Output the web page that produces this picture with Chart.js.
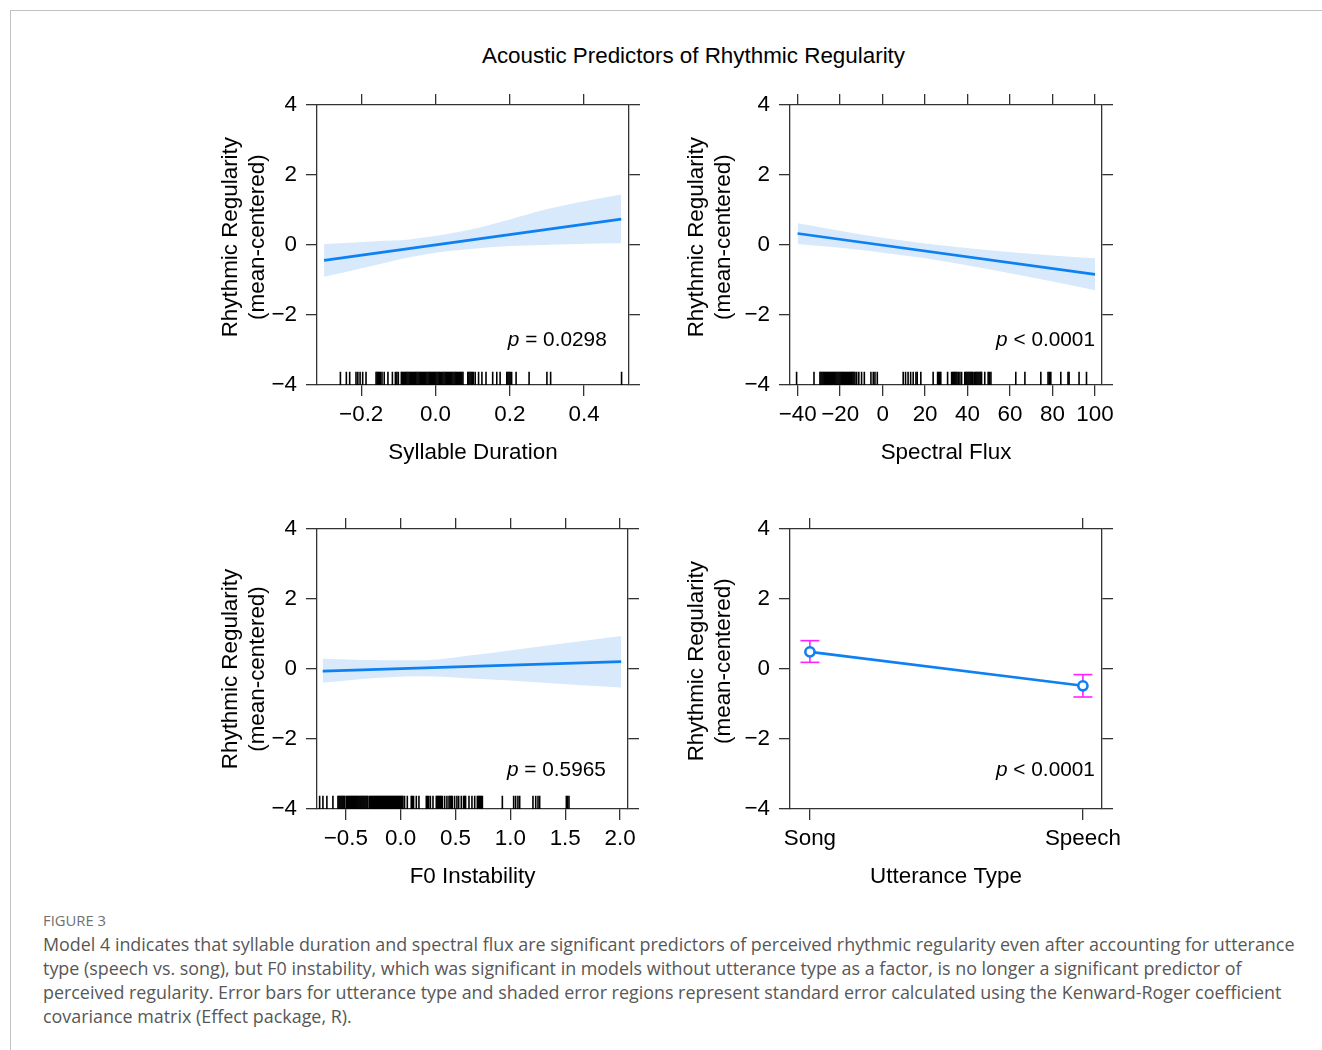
<!DOCTYPE html>
<html lang="en">
<head>
<meta charset="UTF-8">
<title>Acoustic Predictors of Rhythmic Regularity</title>
<style>
  body { margin: 0; background: #fff; }
  #page { position: relative; width: 1322px; height: 1050px; overflow: hidden; background: #fff; }
  #frame { position: absolute; left: 10px; top: 10px; right: -2px; bottom: -2px;
           border-top: 1.5px solid #c2c2c2; border-left: 1.5px solid #c2c2c2; }
  canvas { position: absolute; }
  #title { position: absolute; left: 0; top: 43px; width: 1387px; text-align: center;
           font: 22.4px "Liberation Sans", Arial, sans-serif; line-height: 26px; color: #000; }
  #figlabel { position: absolute; left: 43px; top: 911px; font: 14.8px "Open Sans", sans-serif;
              line-height: 18px; color: #707070; }
  #caption { position: absolute; left: 43px; top: 932px; font: 17.9px "Open Sans", sans-serif;
             line-height: 24px; color: #575757; white-space: nowrap; }
</style>
</head>
<body>
<div id="page">
  <div id="frame"></div>
  <div id="title">Acoustic Predictors of Rhythmic Regularity</div>
  <canvas id="sdChart"></canvas>
  <canvas id="sfChart"></canvas>
  <canvas id="f0Chart"></canvas>
  <canvas id="utChart"></canvas>
  <div id="figlabel">FIGURE 3</div>
  <div id="caption">Model 4 indicates that syllable duration and spectral flux are significant predictors of perceived rhythmic regularity even after accounting for utterance<br>type (speech vs. song), but F0 instability, which was significant in models without utterance type as a factor, is no longer a significant predictor of<br>perceived regularity. Error bars for utterance type and shaded error regions represent standard error calculated using the Kenward-Roger coefficient<br>covariance matrix (Effect package, R).</div>
</div>

<script src="https://cdn.jsdelivr.net/npm/chart.js@4.4.1/dist/chart.umd.min.js"></script>
<script>
// y axis shared by all panels
const yTicks = [-4, -2, 0, 2, 4];
const yTickLabels = ['\u22124', '\u22122', '0', '2', '4'];
const rugY = -3.81;

// Syllable duration
const sdTicks = [-0.2, 0, 0.2, 0.4];
const sdTickLabels = ['\u22120.2', '0.0', '0.2', '0.4'];
const sdFitX = [-0.30, 0.50];
const sdFitY = [-0.44, 0.74];
const sdBandX = [-0.30, -0.16, -0.07, 0.02, 0.11, 0.20, 0.29, 0.38, 0.50];
const sdBandHi = [0.03, 0.11, 0.16, 0.29, 0.48, 0.73, 1.00, 1.21, 1.44];
const sdBandLo = [-0.91, -0.57, -0.35, -0.19, -0.10, -0.03, 0.00, 0.03, 0.05];
const sdRug = [-0.256, -0.240, -0.231, -0.214, -0.209, -0.203, -0.196, -0.187,
  -0.160, -0.157, -0.154, -0.151, -0.148, -0.144, -0.138, -0.128, -0.116, -0.108, -0.104, -0.100,
  -0.092, -0.089, -0.086, -0.083, -0.080, -0.077, -0.074, -0.071, -0.068, -0.065, -0.062, -0.059,
  -0.056, -0.053, -0.050, -0.047, -0.044, -0.041, -0.038, -0.035, -0.032, -0.029, -0.026, -0.023,
  -0.020, -0.017, -0.014, -0.011, -0.008, -0.005, -0.002, 0.001, 0.004, 0.007, 0.010, 0.013,
  0.017, 0.020, 0.023, 0.026, 0.029, 0.032, 0.035, 0.038, 0.041, 0.044, 0.047, 0.050, 0.053,
  0.056, 0.059, 0.062, 0.065, 0.068, 0.071, 0.074,
  0.087, 0.090, 0.093, 0.096, 0.099, 0.102, 0.107, 0.116, 0.125, 0.136, 0.154, 0.165, 0.174,
  0.192, 0.195, 0.198, 0.201, 0.205, 0.217, 0.252, 0.300, 0.310, 0.501];

// Spectral flux
const sfTicks = [-40, -20, 0, 20, 40, 60, 80, 100];
const sfTickLabels = ['\u221240', '\u221220', '0', '20', '40', '60', '80', '100'];
const sfFitX = [-40, 100];
const sfFitY = [0.33, -0.84];
const sfBandX = [-40, -10, 20, 50, 80, 100];
const sfBandHi = [0.62, 0.30, 0.04, -0.15, -0.30, -0.38];
const sfBandLo = [0.03, -0.14, -0.38, -0.69, -1.04, -1.29];
const sfRug = [-40.5, -32.3,
  -29.5, -29, -28.5, -28, -27.5, -27, -26.5, -26, -25.5, -25, -24.5, -24, -23.5, -23, -22.5, -22,
  -21.5, -21, -20.5, -20, -19.5, -19, -18.5, -18, -17.5, -17, -16.5, -16, -15.5, -15, -14.5, -14,
  -13.5, -13, -12.2, -11.2, -9.9, -8.6, -5.5, -4.4, -3.6, -2.5,
  9.7, 10.8, 12.0, 13.2, 14.4, 15.7, 16.3, 18.0, 23.8, 25.9, 26.4, 26.9, 27.4, 30.6,
  32.5, 33.0, 33.5, 34.0, 34.5, 35.0, 35.6, 36.4, 37.2,
  38.7, 39.2, 39.7, 40.2, 40.7, 41.2, 41.7, 42.2, 42.6, 43.4, 43.9, 44.4, 44.9, 45.4, 45.9, 46.4, 46.6,
  48.1, 49.7, 50.3, 51.0, 62.7, 67.0, 74.5, 77.9, 78.5, 79.2, 83.9, 87.3, 87.8, 92.5, 96.0];

// F0 instability
const f0Ticks = [-0.5, 0, 0.5, 1, 1.5, 2];
const f0TickLabels = ['\u22120.5', '0.0', '0.5', '1.0', '1.5', '2.0'];
const f0FitX = [-0.71, 2.01];
const f0FitY = [-0.06, 0.21];
const f0BandX = [-0.71, -0.37, 0.17, 0.69, 1.30, 2.01];
const f0BandHi = [0.29, 0.26, 0.25, 0.41, 0.66, 0.94];
const f0BandLo = [-0.39, -0.29, -0.21, -0.28, -0.39, -0.53];
const f0Rug = [-0.738, -0.708, -0.672, -0.617,
  -0.571, -0.562, -0.553, -0.544, -0.535, -0.526, -0.517, -0.510,
  -0.495, -0.486, -0.477, -0.468, -0.459, -0.450, -0.441, -0.432, -0.423, -0.414, -0.405, -0.396,
  -0.387, -0.378, -0.369, -0.360, -0.351, -0.342, -0.333, -0.324, -0.315, -0.306, -0.298,
  -0.283, -0.274, -0.265, -0.256, -0.247, -0.238, -0.229, -0.220, -0.211, -0.202, -0.193, -0.184,
  -0.175, -0.166, -0.157, -0.148, -0.139, -0.130, -0.121, -0.112, -0.103, -0.094, -0.085, -0.076,
  -0.067, -0.058, -0.049, -0.040, -0.031, -0.022, -0.013, -0.004, 0.005, 0.013, 0.021,
  0.036, 0.061, 0.097, 0.107, 0.118, 0.143, 0.167, 0.234, 0.245, 0.255, 0.271, 0.295,
  0.325, 0.334, 0.343, 0.352, 0.361, 0.370, 0.380, 0.401, 0.422, 0.441, 0.451, 0.461, 0.471,
  0.492, 0.513, 0.529, 0.553, 0.574, 0.583, 0.592, 0.623, 0.650, 0.675,
  0.699, 0.708, 0.717, 0.726, 0.735, 0.745, 0.927, 1.030, 1.048, 1.069, 1.085,
  1.206, 1.231, 1.252, 1.267, 1.510, 1.520, 1.534];

// Utterance type
const utCats = ['Song', 'Speech'];
const utPos = [1, 2];
const utFit = [0.49, -0.48];
const utLo = [0.19, -0.80];
const utHi = [0.81, -0.16];

const BLUE = '#0d80f2';
const BAND = '#d8e9fc';
const MAGENTA = '#ff22ff';
const INK = '#333';
const FONT = { family: '"Liberation Sans", Arial, sans-serif', size: 22.4 };
const yTitle = ['Rhythmic Regularity', '(mean-centered)'];

const zip = (xs, ys) => xs.map((x, i) => ({ x: x, y: ys[i] }));

const pNote = {
  id: 'pNote',
  afterDatasetsDraw(chart, args, opts) {
    if (!opts.text) return;
    const ctx = chart.ctx;
    const x = chart.scales.x.getPixelForValue(opts.x);
    const y = chart.scales.y.getPixelForValue(opts.y);
    ctx.save();
    ctx.fillStyle = '#000';
    ctx.textBaseline = 'middle';
    ctx.textAlign = 'left';
    ctx.font = '20.8px "Liberation Sans", Arial, sans-serif';
    const rest = ' ' + opts.text;
    const w = ctx.measureText(rest).width;
    ctx.fillText(rest, x - w, y);
    ctx.font = 'italic 20.8px "Liberation Sans", Arial, sans-serif';
    const pw = ctx.measureText('p').width;
    ctx.fillText('p', x - w - pw, y);
    ctx.restore();
  }
};

function fixTicks(values) {
  return s => { s.ticks = values.map(v => ({ value: v })); };
}

// box: chart area in page pixels; ty: y-title options (gap from box, nudge up)
function makePanel(id, box, xMin, xMax, xTicks, xLabels, xTitle, datasets, note, ty) {
  const cv = document.getElementById(id);
  cv.width = box.w + 150;
  cv.height = box.h + 130;
  cv.style.left = (box.l - 120) + 'px';
  cv.style.top = (box.t - 30) + 'px';

  const grid = { drawOnChartArea: false, drawTicks: true, tickLength: 11, color: INK, lineWidth: 1.3 };
  const border = { color: INK, width: 1.3 };
  // leading en + thin space moves the rotated title up a little
  const titleText = ty.up ? yTitle.map(t => '\u2002\u2009' + t) : yTitle;

  new Chart(cv.getContext('2d'), {
    type: 'line',
    data: { datasets: datasets },
    options: {
      responsive: false,
      animation: false,
      events: [],
      devicePixelRatio: 1,
      layout: { padding: 0 },
      plugins: {
        legend: { display: false },
        tooltip: { enabled: false },
        filler: { drawTime: 'beforeDatasetsDraw' },
        pNote: note
      },
      scales: {
        x: {
          type: 'linear', axis: 'x', position: 'bottom', min: xMin, max: xMax,
          afterBuildTicks: fixTicks(xTicks),
          afterFit: s => { s.height = 100; },
          ticks: { callback: (v, i) => xLabels[i], font: FONT, color: '#000', padding: 5,
                   autoSkip: false, maxRotation: 0, minRotation: 0 },
          grid: grid, border: border,
          title: { display: true, text: xTitle, font: FONT, color: '#000', padding: { top: 0, bottom: 18.6 } }
        },
        xTop: {
          type: 'linear', axis: 'x', position: 'top', min: xMin, max: xMax,
          afterBuildTicks: fixTicks(xTicks),
          afterFit: s => { s.height = 30; },
          ticks: { display: false },
          grid: grid, border: border
        },
        y: {
          type: 'linear', axis: 'y', position: 'left', min: -4, max: 4,
          afterBuildTicks: fixTicks(yTicks),
          afterFit: s => { s.width = 120; },
          ticks: { callback: (v, i) => yTickLabels[i], font: FONT, color: '#000', padding: 9 },
          grid: grid, border: border,
          title: { display: true, text: titleText, font: FONT, color: '#000',
                   padding: { top: 120 - ty.gap - 13.44, bottom: 0 } }
        },
        yRight: {
          type: 'linear', axis: 'y', position: 'right', min: -4, max: 4,
          afterBuildTicks: fixTicks(yTicks),
          afterFit: s => { s.width = 30; },
          ticks: { display: false },
          grid: grid, border: border
        }
      }
    },
    plugins: [pNote]
  });
}

function effectSets(fitX, fitY, bandX, bandHi, bandLo, rug) {
  return [
    { data: zip(fitX, fitY), xAxisID: 'x', yAxisID: 'y', borderColor: BLUE, borderWidth: 2.6,
      pointRadius: 0, fill: false },
    { data: rug.map(v => ({ x: v, y: rugY })), xAxisID: 'x', yAxisID: 'y', showLine: false,
      pointStyle: 'line', rotation: 90, pointRadius: 6.6, pointBorderColor: '#000',
      pointBorderWidth: 1.6, borderColor: '#000' },
    { data: zip(bandX, bandHi), xAxisID: 'x', yAxisID: 'y', borderWidth: 0, pointRadius: 0,
      cubicInterpolationMode: 'monotone', fill: '+1', backgroundColor: BAND, borderColor: BAND },
    { data: zip(bandX, bandLo), xAxisID: 'x', yAxisID: 'y', borderWidth: 0, pointRadius: 0,
      cubicInterpolationMode: 'monotone', fill: false, borderColor: BAND }
  ];
}

makePanel('sdChart', { l: 317, t: 105, w: 312, h: 280 }, -0.319, 0.521, sdTicks, sdTickLabels,
  'Syllable Duration', effectSets(sdFitX, sdFitY, sdBandX, sdBandHi, sdBandLo, sdRug),
  { text: '= 0.0298', x: 0.461, y: -2.73 }, { gap: 86, up: true });

makePanel('sfChart', { l: 790, t: 105, w: 312, h: 280 }, -43.6, 103.3, sfTicks, sfTickLabels,
  'Spectral Flux', effectSets(sfFitX, sfFitY, sfBandX, sfBandHi, sfBandLo, sfRug),
  { text: '< 0.0001', x: 100, y: -2.73 }, { gap: 93, up: true });

makePanel('f0Chart', { l: 317, t: 529, w: 311, h: 280 }, -0.762, 2.072, f0Ticks, f0TickLabels,
  'F0 Instability', effectSets(f0FitX, f0FitY, f0BandX, f0BandHi, f0BandLo, f0Rug),
  { text: '= 0.5965', x: 1.87, y: -2.9 }, { gap: 86, up: false });

const utSets = [
  { data: zip(utPos, utFit), xAxisID: 'x', yAxisID: 'y', borderColor: BLUE, borderWidth: 2.6,
    pointRadius: 4.6, pointBorderWidth: 2.6, pointBorderColor: BLUE, pointBackgroundColor: '#fff', fill: false }
];
utPos.forEach((p, i) => {
  utSets.push({ data: [{ x: p, y: utLo[i] }, { x: p, y: utHi[i] }], xAxisID: 'x', yAxisID: 'y',
    borderColor: MAGENTA, borderWidth: 1.6, pointStyle: 'line', pointRadius: 9.5,
    pointBorderColor: MAGENTA, pointBorderWidth: 1.6, fill: false });
});

makePanel('utChart', { l: 790, t: 529, w: 312, h: 280 }, 0.927, 2.07, utPos, utCats,
  'Utterance Type', utSets, { text: '< 0.0001', x: 2.044, y: -2.9 }, { gap: 93, up: true });
</script>
</body>
</html>
